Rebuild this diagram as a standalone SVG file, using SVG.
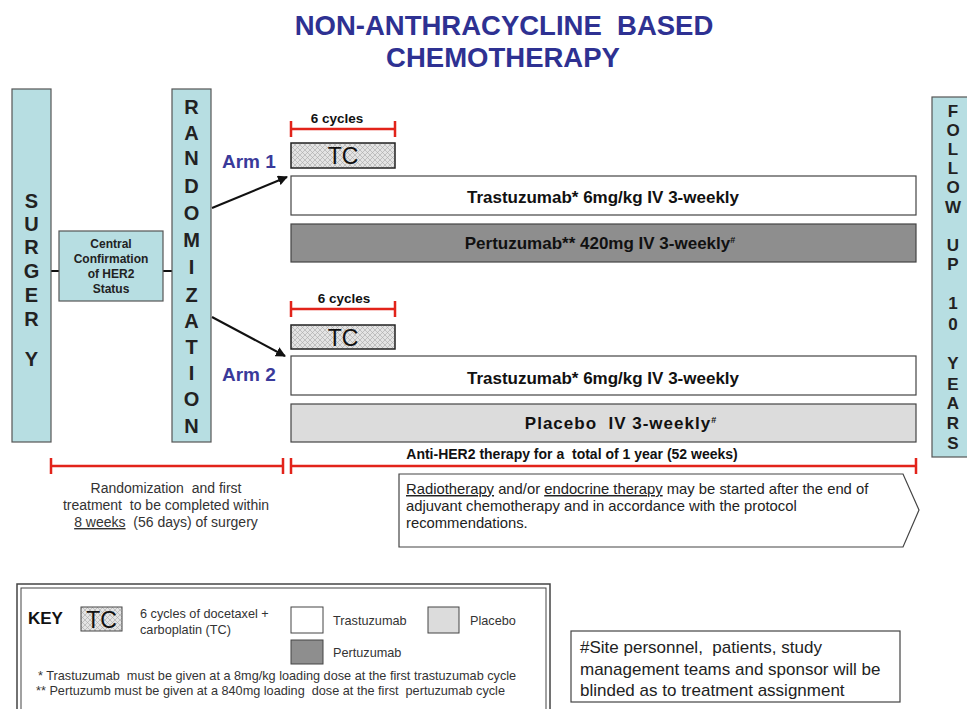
<svg xmlns="http://www.w3.org/2000/svg" width="967" height="709" viewBox="0 0 967 709">
  <style>
    text { white-space: pre; }
    .title { font-family: "Liberation Sans", Arial, sans-serif; font-weight: bold; font-size: 27.5px; fill: #2E3192; text-anchor: middle; }
    .stage { fill: #B7DEE2; stroke: #555; stroke-width: 1.2; }
    .vlet { font-family: "Liberation Sans", Arial, sans-serif; font-weight: bold; font-size: 20px; fill: #222; text-anchor: middle; }
    .vsm { font-family: "Liberation Sans", Arial, sans-serif; font-weight: bold; font-size: 17px; fill: #222; text-anchor: middle; }
    .lbl { font-family: "Liberation Sans", Arial, sans-serif; font-weight: bold; font-size: 12px; fill: #222; text-anchor: middle; }
    .arm { font-family: "Liberation Sans", Arial, sans-serif; font-weight: bold; font-size: 19px; fill: #3A3A9A; }
    .bar { stroke: #444; stroke-width: 1.2; }
    .bartxt { font-family: "Liberation Sans", Arial, sans-serif; font-weight: bold; font-size: 17px; fill: #111; text-anchor: middle; }
    .wide { letter-spacing: 1px; }
    .cyc { font-family: "Liberation Sans", Arial, sans-serif; font-weight: bold; font-size: 13.5px; fill: #111; text-anchor: middle; }
    .span { font-family: "Liberation Sans", Arial, sans-serif; font-weight: bold; font-size: 14px; fill: #111; text-anchor: middle; }
    .tc { font-family: "Liberation Sans", Arial, sans-serif; font-size: 23px; fill: #111; text-anchor: middle; }
    .red { stroke: #E2231A; stroke-width: 2.5; fill: none; }
    .body { font-family: "Liberation Sans", Arial, sans-serif; font-size: 14px; fill: #333; }
    .note { font-family: "Liberation Sans", Arial, sans-serif; font-size: 14.8px; fill: #222; }
    .key { font-family: "Liberation Sans", Arial, sans-serif; font-size: 12.7px; fill: #333; }
    .blind { font-family: "Liberation Sans", Arial, sans-serif; font-size: 17px; fill: #222; }
    .conn { stroke: #111; stroke-width: 2; fill: none; }
  </style>
  <defs>
    <pattern id="hatch" width="5" height="5" patternUnits="userSpaceOnUse">
      <rect width="5" height="5" fill="#E4E4E4"/>
      <path d="M0 0 L5 5 M5 0 L0 5" stroke="#A8A8A8" stroke-width="0.6"/>
    </pattern>
    <marker id="arr" viewBox="0 0 10 10" refX="9" refY="5" markerWidth="5" markerHeight="5" orient="auto">
      <path d="M0 0 L10 5 L0 10 z" fill="#111"/>
    </marker>
  </defs>

  <rect width="967" height="709" fill="#fff"/>

  <!-- heading -->
  <text class="title" x="504" y="35">NON-ANTHRACYCLINE  BASED</text>
  <text class="title" x="503" y="67">CHEMOTHERAPY</text>

  <!-- connectors -->
  <g id="connectors">
    <line class="conn" x1="51" y1="271" x2="59" y2="271"/>
    <line class="conn" x1="163" y1="271" x2="172" y2="271"/>
    <line class="conn" x1="212" y1="208" x2="287" y2="177" marker-end="url(#arr)"/>
    <line class="conn" x1="212" y1="317" x2="285" y2="356" marker-end="url(#arr)"/>
  </g>

  <!-- surgery -->
  <g id="surgery">
    <rect class="stage" x="12" y="89" width="39" height="353"/>
    <text class="vlet" x="31.5" y="208">S</text>
    <text class="vlet" x="31.5" y="231">U</text>
    <text class="vlet" x="31.5" y="254">R</text>
    <text class="vlet" x="31.5" y="278">G</text>
    <text class="vlet" x="31.5" y="302">E</text>
    <text class="vlet" x="31.5" y="326">R</text>
    <text class="vlet" x="31.5" y="366">Y</text>
  </g>

  <!-- central confirmation -->
  <g id="her2-confirmation">
    <rect class="stage" x="59" y="231" width="104" height="70"/>
    <text class="lbl" x="111" y="248">Central</text>
    <text class="lbl" x="111" y="263">Confirmation</text>
    <text class="lbl" x="111" y="278">of HER2</text>
    <text class="lbl" x="111" y="293">Status</text>
  </g>

  <!-- randomization -->
  <g id="randomization">
    <rect class="stage" x="172" y="89" width="39" height="353"/>
    <text class="vlet" x="191.5" y="114">R</text>
    <text class="vlet" x="191.5" y="140">A</text>
    <text class="vlet" x="191.5" y="165">N</text>
    <text class="vlet" x="191.5" y="193">D</text>
    <text class="vlet" x="191.5" y="220">O</text>
    <text class="vlet" x="191.5" y="247">M</text>
    <text class="vlet" x="191.5" y="274">I</text>
    <text class="vlet" x="191.5" y="302">Z</text>
    <text class="vlet" x="191.5" y="328">A</text>
    <text class="vlet" x="191.5" y="354">T</text>
    <text class="vlet" x="191.5" y="380">I</text>
    <text class="vlet" x="191.5" y="406">O</text>
    <text class="vlet" x="191.5" y="433">N</text>
  </g>

  <!-- arm 1 -->
  <g id="arm1">
    <text class="arm" x="222" y="168">Arm 1</text>
    <text class="cyc" x="337" y="123">6 cycles</text>
    <path class="red" d="M291 129 H395 M291 121 V137 M395 121 V137"/>
    <rect x="291" y="143" width="104" height="25" fill="url(#hatch)" stroke="#222" stroke-width="1.5"/>
    <text class="tc" x="343" y="164">TC</text>
    <rect class="bar" x="291" y="176" width="625" height="39" fill="#fff"/>
    <text class="bartxt" x="603" y="203">Trastuzumab* 6mg/kg IV 3-weekly</text>
    <rect class="bar" x="291" y="224" width="625" height="38" fill="#8E8E8E"/>
    <text class="bartxt" x="600" y="249">Pertuzumab** 420mg IV 3-weekly<tspan font-size="9" dy="-6">#</tspan></text>
  </g>

  <!-- arm 2 -->
  <g id="arm2">
    <text class="arm" x="222" y="381">Arm 2</text>
    <text class="cyc" x="344" y="303">6 cycles</text>
    <path class="red" d="M291 309 H395 M291 301 V317 M395 301 V317"/>
    <rect x="291" y="325" width="104" height="24" fill="url(#hatch)" stroke="#222" stroke-width="1.5"/>
    <text class="tc" x="343" y="346">TC</text>
    <rect class="bar" x="291" y="356" width="625" height="39" fill="#fff"/>
    <text class="bartxt" x="603" y="384">Trastuzumab* 6mg/kg IV 3-weekly</text>
    <rect class="bar" x="291" y="404" width="625" height="38" fill="#DCDCDC"/>
    <text class="bartxt wide" x="621" y="429">Placebo  IV 3-weekly<tspan font-size="9" dy="-6">#</tspan></text>
  </g>

  <!-- follow up -->
  <g id="follow-up">
    <rect class="stage" x="932" y="97" width="40" height="360"/>
    <text class="vsm" x="953" y="117">F</text>
    <text class="vsm" x="953" y="136">O</text>
    <text class="vsm" x="953" y="155">L</text>
    <text class="vsm" x="953" y="174">L</text>
    <text class="vsm" x="953" y="193">O</text>
    <text class="vsm" x="953" y="213">W</text>
    <text class="vsm" x="953" y="251">U</text>
    <text class="vsm" x="953" y="270">P</text>
    <text class="vsm" x="953" y="309">1</text>
    <text class="vsm" x="953" y="330">0</text>
    <text class="vsm" x="953" y="369">Y</text>
    <text class="vsm" x="953" y="390">E</text>
    <text class="vsm" x="953" y="409">A</text>
    <text class="vsm" x="953" y="429">R</text>
    <text class="vsm" x="953" y="449">S</text>
  </g>

  <!-- timeline -->
  <g id="timeline">
    <text class="span" x="572" y="459">Anti-HER2 therapy for a  total of 1 year (52 weeks)</text>
    <path class="red" d="M51 466 H283 M51 458 V474 M283 458 V474"/>
    <path class="red" d="M291 466 H916 M291 458 V474 M916 458 V474"/>
    <text class="body" text-anchor="middle" x="166" y="493">Randomization  and first</text>
    <text class="body" text-anchor="middle" x="166" y="510">treatment  to be completed within</text>
    <text class="body" text-anchor="middle" x="166" y="527"><tspan text-decoration="underline">8 weeks</tspan>  (56 days) of surgery</text>
  </g>

  <!-- post-chemo note -->
  <g id="post-chemo">
    <path d="M399 474 H903 L919 510 L903 547 H399 Z" fill="#fff" stroke="#444" stroke-width="1.2"/>
    <text class="note" x="406" y="494"><tspan text-decoration="underline">Radiotherapy</tspan> and/or <tspan text-decoration="underline">endocrine therapy</tspan> may be started after the end of</text>
    <text class="note" x="406" y="511">adjuvant chemotherapy and in accordance with the protocol</text>
    <text class="note" x="406" y="528">recommendations.</text>
  </g>

  <!-- legend -->
  <g id="legend">
    <rect x="17" y="584" width="533" height="130" fill="#fff" stroke="#444" stroke-width="1.5"/>
    <rect x="21" y="588" width="525" height="130" fill="none" stroke="#444" stroke-width="1"/>
    <text x="28" y="624" font-family="Liberation Sans, Arial, sans-serif" font-weight="bold" font-size="17" fill="#111">KEY</text>
    <rect x="81" y="607" width="41" height="24" fill="url(#hatch)" stroke="#444" stroke-width="1"/>
    <text class="tc" x="101.5" y="628" font-size="21">TC</text>
    <text class="key" x="140" y="618" font-size="11">6 cycles of docetaxel +</text>
    <text class="key" x="140" y="634" font-size="11">carboplatin (TC)</text>
    <rect x="291" y="607" width="32" height="26" fill="#fff" stroke="#444" stroke-width="1"/>
    <text class="key" x="333" y="625">Trastuzumab</text>
    <rect x="428" y="607" width="31" height="26" fill="#DCDCDC" stroke="#444" stroke-width="1"/>
    <text class="key" x="470" y="625">Placebo</text>
    <rect x="291" y="640" width="32" height="24" fill="#8E8E8E" stroke="#444" stroke-width="1"/>
    <text class="key" x="333" y="657">Pertuzumab</text>
    <text class="key" x="38" y="680">* Trastuzumab  must be given at a 8mg/kg loading dose at the first trastuzumab cycle</text>
    <text class="key" x="36" y="695">** Pertuzumb must be given at a 840mg loading  dose at the first  pertuzumab cycle</text>
  </g>

  <!-- blinding note -->
  <g id="blinding">
    <rect x="571" y="631" width="329" height="71" fill="#fff" stroke="#444" stroke-width="1.2"/>
    <text class="blind" x="580" y="653">#Site personnel,  patients, study</text>
    <text class="blind" x="580" y="675">management teams and sponsor will be</text>
    <text class="blind" x="580" y="696">blinded as to treatment assignment</text>
  </g>
</svg>
